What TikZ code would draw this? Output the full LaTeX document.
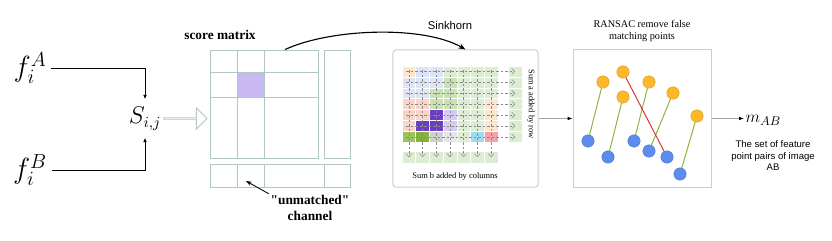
\documentclass[tikz,border=0pt]{standalone}
\usepackage{fontspec}
\setmainfont{Liberation Serif}
\setsansfont{Liberation Sans}
\usepackage{tikz}
\usetikzlibrary{positioning, arrows.meta, shapes.arrows}
\definecolor{gridC}{RGB}{178,199,195}
\definecolor{boxC}{RGB}{192,209,207}
\definecolor{selC}{RGB}{200,185,242}
\definecolor{skPe}{RGB}{253,230,204}
\definecolor{skBl}{RGB}{222,228,245}
\definecolor{skLg}{RGB}{221,237,211}
\definecolor{skMg}{RGB}{201,227,176}
\definecolor{skPk}{RGB}{249,212,202}
\definecolor{skDp}{RGB}{108,60,201}
\definecolor{skLp}{RGB}{214,202,245}
\definecolor{skGa}{RGB}{156,196,92}
\definecolor{skGb}{RGB}{134,178,54}
\definecolor{skGy}{RGB}{207,207,207}
\definecolor{skLy}{RGB}{229,229,229}
\definecolor{skCy}{RGB}{160,218,242}
\definecolor{skRd}{RGB}{243,163,168}
\definecolor{ptO}{RGB}{252,184,40}
\definecolor{ptB}{RGB}{92,140,238}
\definecolor{lnG}{RGB}{140,178,62}
\definecolor{lnR}{RGB}{224,48,48}

\begin{document}
\begin{tikzpicture}[
    x=0.025cm, y=-0.025cm,
    panel/.style={draw=boxC, line width=0.7pt, inner sep=0pt},
    gridline/.style={draw=gridC, line width=0.6pt},
    skcell/.style={draw=white, line width=0.3pt, minimum width=0.3425cm, minimum height=0.2725cm, inner sep=0pt},
    flow/.style={draw=black!45, line width=0.4pt, dash pattern=on 2pt off 1.2pt, -{Straight Barb[length=2pt]}},
    feed/.style={line width=0.6pt, -{Latex[length=3pt, width=2.6pt]}},
    greyln/.style={draw=black!35, line width=0.6pt, -{Latex[black, length=3.5pt, width=2.6pt]}},
    dotO/.style={circle, fill=ptO, draw=ptO!85!black, line width=0.3pt, minimum size=0.31cm, inner sep=0pt},
    dotB/.style={circle, fill=ptB, draw=ptB!85!black, line width=0.3pt, minimum size=0.31cm, inner sep=0pt},
    pairok/.style={draw=lnG, line width=0.7pt},
    pairbad/.style={draw=lnR, line width=0.7pt},
    ttl/.style={font=\fontsize{9.5}{11}\selectfont\bfseries},
    tiny/.style={font=\fontsize{6}{7}\selectfont}
  ]
  \useasboundingbox (0,0) rectangle (832,241);

  % inputs
  \node (fA) at (30,68) {\fontsize{20}{22}\selectfont$f_i^A$};
  \node (fB) at (30,170) {\fontsize{20}{22}\selectfont$f_i^B$};
  \node[minimum height=0.95cm, inner sep=0pt] (S) at (145,118.5) {\fontsize{16}{18}\selectfont$S_{i,j}$};
  \draw[feed] (fA.east) -| (S.north);
  \draw[feed] (fB.east) -| (S.south);
  \node[single arrow, draw=gridC, line width=0.6pt, minimum height=1.08cm, minimum width=0.53cm,
        single arrow head extend=0.15cm, inner sep=0pt] (hollow) at (185,118.5) {};

  % score matrix
  \node[panel, draw=gridC, line width=0.6pt, minimum width=2.7cm, minimum height=2.7cm] (score) at (264,104) {};
  \fill[selC] (237,72) rectangle (264,97);
  \draw[gridline] (237,50) -- (237,158) (264,50) -- (264,158);
  \draw[gridline] (210,72) -- (318,72) (210,97) -- (318,97);
  \node[panel, draw=gridC, line width=0.6pt, minimum width=0.65cm, minimum height=2.7cm] (dcol) at (337,104) {};
  \node[panel, draw=gridC, line width=0.6pt, minimum width=3.5cm, minimum height=0.575cm] (drow) at (280,175.5) {};
  \draw[gridline] (237,164) -- (237,187) (264,164) -- (264,187) (324,164) -- (324,187);
  \node[ttl] (scoreT) at (220,35) {score matrix};
  \node[ttl, align=center, inner sep=1pt] (unm) at (310,208) {\textquotedbl unmatched\textquotedbl\\channel};
  \coordinate (uhit) at (246,181);
  \draw[line width=0.6pt, -{Stealth[length=4pt]}] (unm.north west) -- (uhit);

  % sinkhorn
  \node[panel, rounded corners=2pt, minimum width=3.625cm, minimum height=3.425cm] (sink) at (465.5,118.5) {};
  \node[font=\sffamily\fontsize{8}{9}\selectfont] (skT) at (450,25) {Sinkhorn};
  \draw[line width=0.8pt, -{Stealth[length=5pt]}] ([xshift=0.525cm]score.north) to[out=25, in=150, looseness=0.7] (sink.north);
  \foreach \r/\row in {0/{skPe,skBl,skBl,skLg,skLg,skLg,skLg},
                       1/{skBl,skBl,skBl,skMg,skLg,skLg,skLg},
                       2/{skBl,skBl,skMg,skMg,skLg,skLg,skLg},
                       3/{skPk,skPk,skMg,skMg,skLg,skLg,skPe},
                       4/{skPk,skPk,skDp,skLp,skLg,skLg,skPe},
                       5/{skPk,skDp,skDp,skLp,skLg,skLg,skPe},
                       6/{skGa,skGb,skGy,skLy,skLg,skCy,skRd}} {
    \foreach \col [count=\c from 0] in \row
      \node[skcell, fill=\col] (g-\r-\c) at ({408.85+\c*13.7}, {71.45+\r*10.9}) {};
    \node[skcell, fill=skLg, minimum width=0.35cm] (ra-\r) at (515, {71.45+\r*10.9}) {};
  }
  \foreach \c in {0,...,6}
    \node[skcell, fill=skLg, minimum height=0.3cm] (cb-\c) at ({408.85+\c*13.7}, 157) {};
  \foreach \k in {0,...,6} {
    \draw[flow] ([xshift=3pt]g-\k-0.west) -- (ra-\k.center);
    \draw[flow] ([yshift=-3pt]g-0-\k.north) -- (cb-\k.center);
  }
  \node[tiny, rotate=-90] (sumA) at (531,104) {Sum a added by row};
  \node[tiny] (sumB) at (455,176) {Sum b added by columns};

  % ransac
  \node[panel, minimum width=3.45cm, minimum height=3.425cm] (ransac) at (642,118.5) {};
  \node[align=center, font=\fontsize{7.3}{8.6}\selectfont] (rT) at (642,31) {RANSAC remove false\\matching points};
  \draw[greyln] (sink.east) -- (ransac.west);
  \foreach \n/\x/\y in {1/603/82, 2/623/72, 3/623/97, 4/649/82, 5/673/93, 6/697/116}
    \node[dotO] (o\n) at (\x,\y) {};
  \foreach \n/\x/\y in {1/588/141, 2/608/157, 3/634/141, 4/649/151, 5/667/157, 6/680/174}
    \node[dotB] (b\n) at (\x,\y) {};
  \draw[pairok] (o1) -- (b1) (o3) -- (b2) (o4) -- (b3) (o5) -- (b4) (o6) -- (b6);
  \draw[pairbad] (o2) -- (b5);

  % output
  \node[anchor=west, inner sep=1pt] (mAB) at (744,120) {\fontsize{13}{15}\selectfont$m_{AB}$};
  \draw[greyln] (ransac.east) -- (ransac.east -| mAB.west);
  \node[align=center, font=\sffamily\fontsize{6.8}{8.2}\selectfont] (desc) at (773,156) {The set of feature\\point pairs of image\\AB};
\end{tikzpicture}
\end{document}
